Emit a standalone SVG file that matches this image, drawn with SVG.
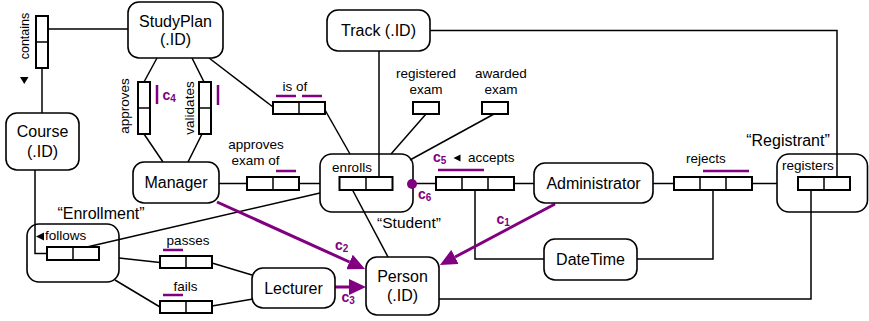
<svg xmlns="http://www.w3.org/2000/svg" width="869" height="321" viewBox="0 0 869 321">
<style>
text{font-family:"Liberation Sans",Arial,sans-serif;fill:#000}
.n{font-size:16px;text-anchor:middle}
.l{font-size:13.5px;text-anchor:middle}
.q{font-size:16px;text-anchor:middle}
.c{font-size:14px;font-weight:bold;fill:#800080}
.c tspan{font-size:10px}
.node{fill:#fff;stroke:#000;stroke-width:1.6}
.nest{fill:none;stroke:#000;stroke-width:1.6}
.rb{fill:#fff;stroke:#000;stroke-width:2}
.cn{fill:none;stroke:#000;stroke-width:1.5}
.pu{fill:none;stroke:#800080;stroke-width:2.5}
.sub{fill:none;stroke:#800080;stroke-width:3}
</style>
<defs>
<marker id="ah" viewBox="0 0 17 16" refX="0" refY="8" markerWidth="17" markerHeight="16" markerUnits="userSpaceOnUse" orient="auto">
<path d="M0,0 L17,8 L0,16 z" fill="#800080"/>
</marker>
</defs>

<g id="connectors">
<path class="cn" d="M48,29 H128"/>
<path class="cn" d="M42,68 V113"/>
<path class="cn" d="M157,58 L144,82"/>
<path class="cn" d="M192,58 L204,82"/>
<path class="cn" d="M144,134 L163,162"/>
<path class="cn" d="M202,134 L188,162"/>
<path class="cn" d="M209,58 L273,107"/>
<path class="cn" d="M325,110 L350,154"/>
<path class="cn" d="M219,183.5 H247"/>
<path class="cn" d="M299,183.5 H320"/>
<path class="cn" d="M379,51 V177"/>
<path class="cn" d="M426,114 L391,154"/>
<path class="cn" d="M494,114 L410,160"/>
<path class="cn" d="M412,183.5 H436"/>
<path class="cn" d="M514,183.5 H534"/>
<path class="cn" d="M653,183.5 H674"/>
<path class="cn" d="M752,183.5 H777"/>
<path class="cn" d="M430,30.5 H837 V177"/>
<path class="cn" d="M811,190 V299 H439"/>
<path class="cn" d="M475,190 V259 H544"/>
<path class="cn" d="M713,190 V259 H637"/>
<path class="cn" d="M352.5,190 L388,257"/>
<path class="cn" d="M320,193 L87,247"/>
<path class="cn" d="M35,170 V253.5 H47"/>
<path class="cn" d="M119,258 L160,262.5"/>
<path class="cn" d="M115,280 L160,307"/>
<path class="cn" d="M212,263 L252,275"/>
<path class="cn" d="M212,306 L253,299"/>
<path class="sub" d="M555,204 L455,257" marker-end="url(#ah)"/>
<path class="sub" d="M217,202 L349.5,262" marker-end="url(#ah)"/>
<path class="sub" d="M335,287 L349,287" marker-end="url(#ah)"/>
</g>

<g id="StudyPlan">
<rect class="node" x="128" y="2" width="95" height="56" rx="11"/>
<text class="n" x="175.5" y="27">StudyPlan</text>
<text class="n" x="175.5" y="45">(.ID)</text>
</g>
<g id="Track">
<rect class="node" x="327" y="10" width="103" height="41" rx="11"/>
<text class="n" x="378.5" y="36">Track (.ID)</text>
</g>
<g id="Course">
<rect class="node" x="6" y="113" width="73" height="57" rx="11"/>
<text class="n" x="42.5" y="137">Course</text>
<text class="n" x="42.5" y="157">(.ID)</text>
</g>
<g id="Manager">
<rect class="node" x="133" y="162" width="86" height="41" rx="11"/>
<text class="n" x="176" y="188">Manager</text>
</g>
<g id="Person">
<rect class="node" x="366" y="257" width="73" height="58" rx="11"/>
<text class="n" x="402.5" y="281.5">Person</text>
<text class="n" x="402.5" y="301">(.ID)</text>
</g>
<g id="Lecturer">
<rect class="node" x="252" y="268" width="83" height="40" rx="11"/>
<text class="n" x="293.5" y="293.5">Lecturer</text>
</g>
<g id="Administrator">
<rect class="node" x="534" y="163" width="119" height="40" rx="11"/>
<text class="n" x="593.5" y="189">Administrator</text>
</g>
<g id="DateTime">
<rect class="node" x="544" y="239" width="93" height="41" rx="11"/>
<text class="n" x="590.5" y="265">DateTime</text>
</g>

<g id="contains">
<rect class="rb" x="36" y="16" width="12" height="52"/>
<path class="cn" d="M36,42 H48" stroke-width="2"/>
<text class="l" style="font-size:12.5px" transform="translate(29,36) rotate(-90)">contains</text>
<polygon points="20,77 28.5,77 24.25,84" fill="#000"/>
</g>
<g id="approves">
<rect class="rb" x="138" y="82" width="12" height="52"/>
<path class="cn" d="M138,108 H150" stroke-width="2"/>
<text class="l" transform="translate(129,106) rotate(-90)">approves</text>
</g>
<g id="validates">
<rect class="rb" x="199" y="82" width="12" height="52"/>
<path class="cn" d="M199,108 H211" stroke-width="2"/>
<text class="l" transform="translate(194,108) rotate(-90)">validates</text>
</g>
<g id="isOf">
<rect class="rb" x="273" y="102" width="52" height="12"/>
<path class="cn" d="M299,102 V114" stroke-width="2"/>
<text class="l" x="295" y="90.5">is of</text>
</g>
<g id="approvesExamOf">
<rect class="rb" x="247" y="177" width="52" height="13"/>
<path class="cn" d="M273,177 V190" stroke-width="2"/>
<text class="l" x="256" y="148.5">approves</text>
<text class="l" x="255.5" y="165">exam of</text>
</g>
<g id="enrolls">
<rect class="nest" x="320" y="154" width="93" height="58" rx="12"/>
<rect class="rb" x="339.5" y="177" width="53" height="13"/>
<path class="cn" d="M366,177 V190" stroke-width="2"/>
<text class="l" x="352" y="171.5">enrolls</text>
<text class="q" style="font-size:15.5px" x="409" y="227.5">“Student”</text>
</g>
<g id="registeredExam">
<rect class="rb" x="413" y="102" width="26" height="12"/>
<text class="l" x="426" y="78">registered</text>
<text class="l" x="426" y="94">exam</text>
</g>
<g id="awardedExam">
<rect class="rb" x="482" y="102" width="26" height="12"/>
<text class="l" x="501" y="78">awarded</text>
<text class="l" x="501" y="94">exam</text>
</g>
<g id="accepts">
<rect class="rb" x="436" y="177" width="78" height="13"/>
<path class="cn" d="M462,177 V190 M488,177 V190" stroke-width="2"/>
<polygon points="453.5,158 460.5,154.5 460.5,161.5" fill="#000"/>
<text class="l" style="text-anchor:start" x="468" y="162">accepts</text>
</g>
<g id="rejects">
<rect class="rb" x="674" y="177" width="78" height="13"/>
<path class="cn" d="M700,177 V190 M726,177 V190" stroke-width="2"/>
<text class="l" x="706" y="163">rejects</text>
</g>
<g id="registers">
<rect class="nest" x="777" y="154" width="90.5" height="58" rx="12"/>
<rect class="rb" x="798" y="177" width="52" height="13"/>
<path class="cn" d="M824,177 V190" stroke-width="2"/>
<text class="l" x="808" y="170">registers</text>
<text class="q" x="788" y="146">“Registrant”</text>
</g>
<g id="follows">
<rect class="nest" x="27" y="224" width="92" height="58" rx="12"/>
<rect class="rb" x="47" y="247" width="52" height="13"/>
<path class="cn" d="M73,247 V260" stroke-width="2"/>
<polygon points="36,236.5 44,232.5 44,240.5" fill="#000"/>
<text class="l" style="text-anchor:start" x="45" y="240">follows</text>
<text class="q" x="101" y="219">“Enrollment”</text>
</g>
<g id="passes">
<rect class="rb" x="160" y="256" width="52" height="12"/>
<path class="cn" d="M186,256 V268" stroke-width="2"/>
<text class="l" x="188" y="244.5">passes</text>
</g>
<g id="fails">
<rect class="rb" x="160" y="301" width="52" height="12"/>
<path class="cn" d="M186,301 V313" stroke-width="2"/>
<text class="l" x="185.5" y="291">fails</text>
</g>

<g id="constraints">
<path class="pu" d="M157,85 V104 M218,85 V105"/>
<text class="c" x="162.5" y="100">c<tspan dy="2">4</tspan></text>
<path class="pu" d="M276,96 H296 M302,96 H322"/>
<path class="pu" d="M276,171 H296"/>
<text class="c" x="433" y="161.5">c<tspan dy="2">5</tspan></text>
<path class="pu" d="M438,170 H484"/>
<circle cx="412" cy="184" r="5" fill="#800080"/>
<text class="c" x="418" y="198.5">c<tspan dy="2">6</tspan></text>
<path class="pu" d="M703,171 H749"/>
<path class="pu" d="M163,250 H183 M163,295 H183"/>
<text class="c" x="496.5" y="224">c<tspan dy="2">1</tspan></text>
<text class="c" x="335" y="250">c<tspan dy="2">2</tspan></text>
<text class="c" x="341.5" y="301.5">c<tspan dy="2">3</tspan></text>
</g>
</svg>
